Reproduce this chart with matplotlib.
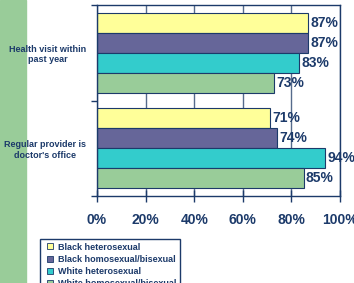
import matplotlib.pyplot as plt
from matplotlib.patches import Rectangle
from matplotlib.lines import Line2D

categories = ["Health visit within\npast year", "Regular provider is\ndoctor's office"]
groups = ["Black heterosexual", "Black homosexual/bisexual", "White heterosexual", "White homosexual/bisexual"]
values = {
    "Black heterosexual": [87, 71],
    "Black homosexual/bisexual": [87, 74],
    "White heterosexual": [83, 94],
    "White homosexual/bisexual": [73, 85],
}
xticks = [0, 20, 40, 60, 80, 100]

colors = ["#FFFF99", "#666699", "#33CCCC", "#99CC99"]
navy = "#1C3A6A"
plt.rcParams['font.family'] = ['Liberation Sans', 'DejaVu Sans']

fig = plt.figure(figsize=(3.54, 2.83), dpi=100)
fig.patches.append(Rectangle((0, 0), 26 / 354, 1, transform=fig.transFigure,
                             color="#99CC99", zorder=-5))
ax = fig.add_axes([97 / 354, 87 / 283, 243 / 354, 191 / 283])

h = 0.21
for j, g in enumerate(groups):
    ys = [i + (j - 1.5) * h for i in range(len(categories))]
    bars = ax.barh(ys, values[g], height=h, color=colors[j], edgecolor=navy,
                   linewidth=0.8, label=g, zorder=2)
    for b, v in zip(bars, values[g]):
        ax.text(b.get_width() + 1, b.get_y() + h / 2, f"{v}%", va="center", ha="left",
                fontsize=10, fontweight="bold", color=navy, clip_on=False)

ax.set_xlim(0, 100)
ax.set_ylim(1.5, -0.5)
ax.set_xticks(xticks)
ax.set_xticklabels([f"{t}%" for t in xticks], fontsize=10, fontweight="bold", color=navy)
ax.tick_params(axis="x", direction="inout", length=9, width=1, color=navy, pad=8)
ax.set_yticks(range(len(categories)))
ax.set_yticklabels(categories, fontsize=6.5, fontweight="bold", color=navy,
                   multialignment="center")
ax.tick_params(axis="y", which="major", length=0, pad=8)
ax.set_yticks([-0.5, 0.5, 1.5], minor=True)
ax.tick_params(axis="y", which="minor", length=4, width=1, color=navy)
ax.grid(axis="x", color="#566B8C", linewidth=1)
ax.set_axisbelow(True)
for s in ax.spines.values():
    s.set_color(navy)
    s.set_linewidth(1)

handles = [Line2D([], [], marker="s", linestyle="none", markersize=4.5,
                  markerfacecolor=c, markeredgecolor=navy, markeredgewidth=0.6)
           for c in colors]
fig.legend(handles, groups, loc="upper left", bbox_to_anchor=(40 / 354, 1 - 239 / 283),
           borderaxespad=0, prop={"weight": "bold", "size": 6.5}, frameon=True,
           fancybox=False, edgecolor=navy, handlelength=1.4, handletextpad=0.2,
           labelspacing=0.35, borderpad=0.4, labelcolor=navy, framealpha=1)

fig.savefig("out.png", dpi=100)
